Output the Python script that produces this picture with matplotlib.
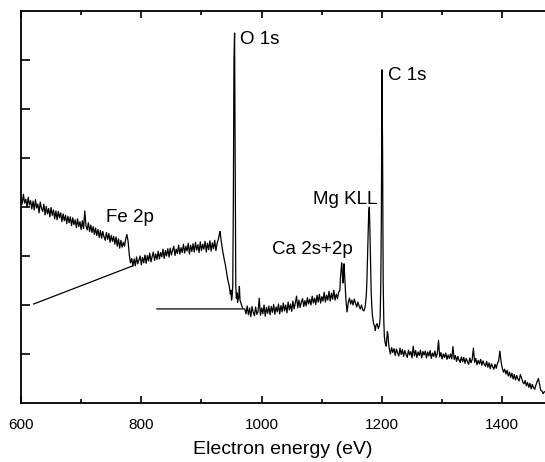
import matplotlib
matplotlib.use("Agg")
import matplotlib.pyplot as plt

plt.rcParams['font.family'] = ['Liberation Sans', 'DejaVu Sans']

# ---------------- data ----------------
# Segment A: 600 -> 786 eV (high background with the Fe 2p edge)
seg_a_x = list(range(600, 774, 2)) + [774, 776, 778, 780, 782, 784, 786]
seg_a_y = [4.20, 4.06, 4.26, 4.08, 4.16, 4.00, 4.20, 4.04, 4.13, 3.96,
           4.12, 3.94, 4.15, 3.98, 4.06, 3.88, 4.10, 3.97, 3.91, 4.06,
           3.84, 4.01, 3.86, 3.97, 3.80, 3.99, 3.83, 3.94, 3.76, 3.92,
           3.74, 3.91, 3.78, 3.88, 3.70, 3.86, 3.72, 3.83, 3.66, 3.81,
           3.68, 3.80, 3.62, 3.78, 3.64, 3.74, 3.58, 3.76, 3.60, 3.70,
           3.54, 3.72, 3.56, 3.92, 3.62, 3.53, 3.68, 3.50, 3.63, 3.48,
           3.60, 3.44, 3.57, 3.42, 3.54, 3.38, 3.52, 3.36, 3.50, 3.39,
           3.32, 3.48, 3.34, 3.46, 3.28, 3.42, 3.30, 3.40, 3.24, 3.39,
           3.20, 3.35, 3.16, 3.32, 3.18, 3.28, 3.20,
           3.34, 3.44, 3.30, 3.02, 2.86, 2.95, 2.80]

# Segment B: first point at 621 eV, then 786 -> 968 eV (O 1s region)
seg_b_x = [621, 786] + list(range(788, 930, 2)) + [
    930, 931, 932, 934, 936, 938, 940, 942, 944, 946, 948, 949, 950, 951, 952,
    953, 954, 955, 956, 957, 958, 959, 960, 962, 963, 964, 966, 968]
seg_b_y = [2.02, 2.80,
           2.94, 2.80, 2.98, 2.84, 2.92, 3.00, 2.82, 2.97, 2.86, 3.02,
           2.85, 3.01, 2.90, 3.06, 2.88, 2.99, 3.08, 2.91, 3.04, 2.93,
           3.10, 2.94, 3.07, 2.98, 3.14, 2.95, 3.11, 3.00, 3.15, 2.98,
           3.16, 3.02, 3.12, 3.20, 3.01, 3.14, 3.05, 3.22, 3.04, 3.17,
           3.07, 3.24, 3.06, 3.20, 3.10, 3.26, 3.04, 3.22, 3.09, 3.25,
           3.08, 3.28, 3.12, 3.23, 3.07, 3.29, 3.11, 3.24, 3.14, 3.30,
           3.08, 3.26, 3.13, 3.31, 3.10, 3.27, 3.15, 3.32, 3.11, 3.26,
           3.34,
           3.46, 3.50, 3.38, 3.20, 3.05, 2.92, 2.80, 2.64, 2.50, 2.40, 2.22, 2.30, 2.10, 2.18, 2.40,
           4.20, 7.00, 7.55, 5.00, 2.40, 2.14, 2.25, 2.05, 2.18, 2.38, 2.10, 2.02, 1.95]

# Segment C: first point at 826 eV, then 972 -> 1470 eV (Ca, Mg KLL, C 1s)
seg_c_x = [826, 972] + list(range(974, 1130, 2)) + [
    1130, 1131, 1133, 1134, 1135, 1136, 1137, 1138, 1139, 1140, 1142, 1144, 1146, 1148, 1150,
    1152, 1154, 1156, 1158, 1160, 1162, 1164, 1166, 1168, 1170, 1172, 1174, 1175, 1176, 1177,
    1178, 1179, 1180, 1181, 1182, 1183, 1184, 1186, 1188, 1189, 1190, 1192, 1194, 1196, 1197,
    1198, 1199, 1200, 1201, 1202, 1203, 1204, 1205, 1206, 1207, 1208, 1209, 1210, 1211, 1212,
] + list(range(1214, 1472, 2))
seg_c_y = [1.92, 1.92,
           1.82, 1.98, 1.80, 1.94, 1.76, 1.97, 1.85, 1.78, 1.96, 1.81,
           1.86, 2.14, 1.79, 1.94, 1.82, 2.00, 1.77, 1.95, 1.83, 1.98,
           1.80, 1.97, 1.85, 2.01, 1.81, 1.96, 1.86, 2.02, 1.82, 1.99,
           1.86, 2.04, 1.88, 2.00, 1.84, 2.06, 1.90, 2.02, 1.87, 2.08,
           1.92, 2.04, 2.18, 1.94, 2.10, 1.95, 2.06, 2.13, 1.97, 2.09,
           1.98, 2.15, 2.02, 2.12, 2.00, 2.18, 2.04, 2.14, 2.01, 2.20,
           2.06, 2.22, 2.04, 2.17, 2.08, 2.26, 2.06, 2.20, 2.10, 2.28,
           2.08, 2.24, 2.12, 2.30, 2.10, 2.22, 2.13, 2.26,
           2.30, 2.55, 2.86, 2.70, 2.45, 2.60, 2.84, 2.60, 2.35, 2.12, 1.86, 2.05, 2.14, 2.02, 2.10,
           2.00, 2.12, 2.04, 1.96, 2.06, 1.98, 1.92, 2.00, 1.90, 1.88, 1.96, 2.20, 2.50, 3.00, 3.45,
           3.90, 4.00, 3.50, 2.90, 2.30, 2.00, 1.80, 1.62, 1.55, 1.48, 1.58, 1.62, 1.52, 1.60, 1.75,
           2.40, 3.80, 6.80, 5.20, 2.50, 1.70, 1.35, 1.25, 1.20, 1.16, 1.30, 1.46, 1.40, 1.22, 1.12,
           1.00, 1.13, 1.03, 1.11, 0.97, 1.10, 1.02, 0.96, 1.12, 0.99,
           1.09, 0.95, 1.07, 0.99, 0.93, 1.08, 0.98, 1.05, 0.92, 1.16,
           0.96, 1.07, 0.93, 1.04, 0.97, 1.08, 0.92, 1.05, 0.98, 1.06,
           0.92, 1.04, 0.96, 1.07, 0.91, 1.02, 0.95, 1.06, 0.93, 1.01,
           1.28, 0.94, 1.03, 0.90, 1.00, 0.93, 1.02, 0.89, 0.98, 0.91,
           1.00, 0.90, 1.15, 0.89, 0.97, 0.85, 0.95, 0.88, 0.83, 0.94,
           0.84, 0.93, 0.81, 0.91, 0.85, 0.79, 0.92, 0.82, 0.89, 1.12,
           0.83, 0.91, 0.78, 0.87, 0.80, 0.89, 0.77, 0.86, 0.79, 0.75,
           0.85, 0.73, 0.82, 0.70, 0.80, 0.74, 0.69, 0.79, 0.71, 0.81,
           0.86, 1.06, 0.84, 0.71, 0.63, 0.69, 0.59, 0.67, 0.55, 0.63,
           0.52, 0.61, 0.49, 0.58, 0.47, 0.56, 0.49, 0.45, 0.58, 0.51,
           0.43, 0.39, 0.46, 0.35, 0.42, 0.32, 0.40, 0.29, 0.38, 0.31,
           0.28, 0.37, 0.44, 0.50, 0.38, 0.26, 0.24, 0.19, 0.23]

peak_labels = ["O 1s", "C 1s", "Mg KLL", "Ca 2s+2p", "Fe 2p"]
peak_label_x = [964, 1210, 1192, 1017, 741]
peak_label_y = [7.41, 6.69, 4.16, 3.14, 3.78]
peak_label_ha = ["left", "left", "right", "left", "left"]

x_ticks = [600, 800, 1000, 1200, 1400]
x_minor = [700, 900, 1100, 1300]
y_ticks = [1, 2, 3, 4, 5, 6, 7]

# ---------------- figure ----------------
fig = plt.figure(figsize=(5.45, 4.62), dpi=100)
ax = fig.add_axes([21/545, 59/462, 524/545, 392/462])

for sx, sy in [(seg_a_x, seg_a_y), (seg_b_x, seg_b_y), (seg_c_x, seg_c_y)]:
    ax.plot(sx, sy, color='black', lw=0.9)

for t, x, y, ha in zip(peak_labels, peak_label_x, peak_label_y, peak_label_ha):
    ax.text(x, y, t, ha=ha, va='center', fontsize=13.5)

ax.set_xlim(600, 1471)
ax.set_ylim(0, 8)
ax.set_xticks(x_ticks)
ax.set_xticks(x_minor, minor=True)
ax.set_yticks(y_ticks)
ax.set_yticklabels([])
ax.tick_params(axis='x', which='major', direction='in', top=True, length=5, width=1.2,
               labelsize=11, pad=11)
ax.tick_params(axis='x', which='minor', direction='in', top=True, length=3, width=1.2)
ax.tick_params(axis='y', direction='in', length=6.5, width=1.2)
for s in ['left', 'top', 'bottom']:
    ax.spines[s].set_linewidth(1.3)
ax.spines['right'].set_visible(False)
ax.set_xlabel('Electron energy (eV)', fontsize=14, labelpad=6)

fig.savefig('out.png', dpi=100)
